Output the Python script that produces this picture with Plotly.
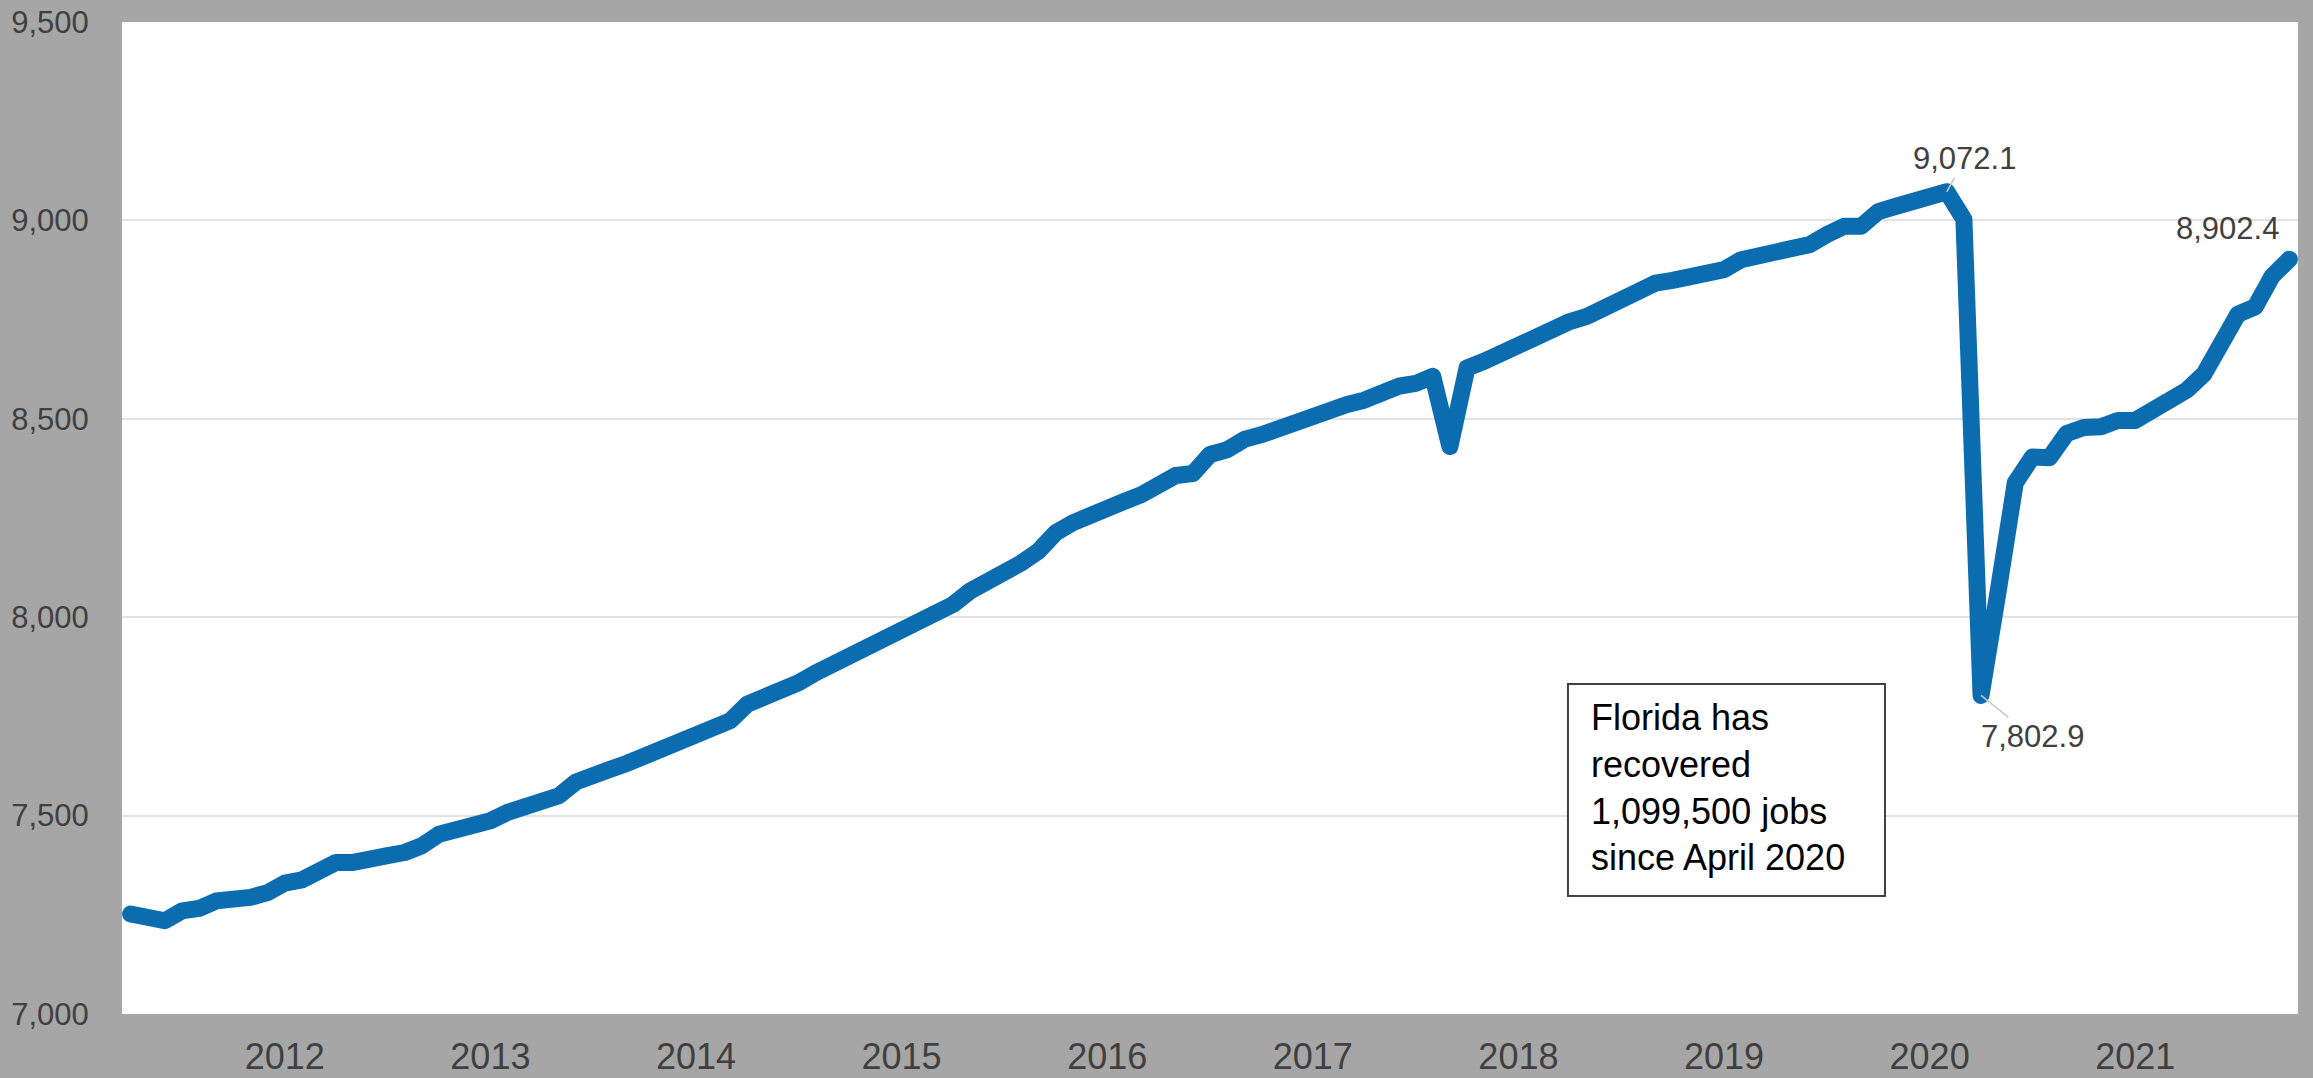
import pandas as pd
import plotly.graph_objects as go

# Monthly Florida nonfarm employment (thousands), Apr 2011 - Oct 2021
v2011 = [7252, 7244, 7235, 7260, 7266, 7285, 7287, 7294, 7306]  # Apr-Dec
v2012 = [7330, 7338, 7357, 7382, 7382, 7395, 7399, 7407, 7424, 7453, 7462, 7473]
v2013 = [7487, 7508, 7525, 7537, 7550, 7585, 7596, 7617, 7632, 7649, 7665, 7682]
v2014 = [7698, 7718, 7739, 7781, 7797, 7814, 7835, 7860, 7881, 7902, 7932, 7953]
v2015 = [7974, 7993, 8011, 8032, 8066, 8087, 8115, 8137, 8167, 8213, 8238, 8259]
v2016 = [8271, 8292, 8309, 8339, 8357, 8362, 8410, 8422, 8448, 8460, 8477, 8494]
v2017 = [8511, 8519, 8536, 8547, 8565, 8582, 8589, 8607, 8430, 8628, 8645, 8666]
v2018 = [8683, 8708, 8733, 8745, 8758, 8779, 8796, 8821, 8842, 8849, 8857, 8859]
v2019 = [8876, 8901, 8909, 8923, 8930, 8939, 8964, 8985, 8985, 9022, 9035, 9044]
v2020 = [9060, 9072.1, 9003, 7802.9, 8065, 8339, 8404, 8402, 8463, 8478, 8480, 8496]
v2021 = [8496, 8522, 8547, 8572, 8612, 8690, 8764, 8782, 8860, 8902.4]  # Jan-Oct

values = v2011 + v2012 + v2013 + v2014 + v2015 + v2016 + v2017 + v2018 + v2019 + v2020 + v2021
months = [d.strftime("%Y-%m") for d in pd.date_range("2011-04-01", periods=len(values), freq="MS")]

year_labels = ["2012", "2013", "2014", "2015", "2016", "2017", "2018", "2019", "2020", "2021"]
year_ticks = [y + "-01" for y in year_labels]
y_ticks = [7000, 7500, 8000, 8500, 9000, 9500]

box_text = "Florida has<br>recovered<br>1,099,500 jobs<br>since April 2020"

LINE_COLOR = "#0C6CB0"
TICK_COLOR = "#404040"
FONT = "Liberation Sans, Arial, sans-serif"

fig = go.Figure()
fig.add_trace(go.Scatter(
    x=months, y=values, mode="lines",
    line=dict(color=LINE_COLOR, width=17),
    hoverinfo="x+y", showlegend=False,
))

i_peak = values.index(max(values[:110]))
i_trough = values.index(min(values[100:]))
i_last = len(values) - 1

ann_font = dict(family=FONT, size=31, color=TICK_COLOR)
annotations = [
    dict(x=months[i_peak], y=values[i_peak], xref="x", yref="y",
         text=f"{values[i_peak]:,.1f}", showarrow=True, arrowhead=0,
         arrowwidth=1.5, arrowcolor="#C8C8C8", ax=18, ay=-33, standoff=0,
         font=ann_font),
    dict(x=months[i_trough], y=values[i_trough], xref="x", yref="y",
         text=f"{values[i_trough]:,.1f}", showarrow=True, arrowhead=0,
         arrowwidth=1.5, arrowcolor="#C8C8C8", ax=51, ay=41, standoff=0,
         font=ann_font),
    dict(x=months[i_last], y=values[i_last], xref="x", yref="y",
         text=f"{values[i_last]:,.1f}", showarrow=False,
         xshift=-62, yshift=31, font=ann_font),
    dict(x=0.6742, y=0.2288, xref="paper", yref="paper",
         xanchor="left", yanchor="middle", align="left",
         text=box_text, showarrow=False,
         font=dict(family=FONT, size=36, color="#000000")),
]

fig.update_layout(
    width=2313, height=1078,
    margin=dict(l=122, r=15, t=22, b=64, pad=0),
    paper_bgcolor="#A6A6A6",
    plot_bgcolor="#FFFFFF",
    font=dict(family=FONT, color=TICK_COLOR),
    annotations=annotations,
    shapes=[dict(type="rect", xref="paper", yref="paper",
                 x0=0.6645, x1=0.8102, y0=0.1190, y1=0.3327,
                 line=dict(color="#404040", width=2), fillcolor="#FFFFFF",
                 layer="above")],
    xaxis=dict(
        type="category", categoryorder="array", categoryarray=months,
        range=[-0.5, len(values) - 0.5], automargin=False,
        tickvals=year_ticks, ticktext=year_labels,
        showgrid=False, zeroline=False, showline=False,
        ticks="outside", ticklen=11, tickcolor="rgba(0,0,0,0)",
        tickfont=dict(family=FONT, size=36, color=TICK_COLOR),
    ),
    yaxis=dict(
        range=[7000, 9500], tickvals=y_ticks, automargin=False,
        tickformat=",d",
        showgrid=True, gridcolor="#E2E2E2", gridwidth=2,
        zeroline=False, showline=False,
        ticks="outside", ticklen=26, tickcolor="rgba(0,0,0,0)",
        tickfont=dict(family=FONT, size=31, color=TICK_COLOR),
    ),
)

post = """
document.body.style.margin='0';
var gd = document.getElementsByClassName('plotly-graph-div')[0];
function roundLines(){
  document.querySelectorAll('.scatterlayer .js-line').forEach(function(p){
    p.style.strokeLinejoin='round'; p.style.strokeLinecap='round';
  });
}
roundLines();
if (gd && gd.on) { gd.on('plotly_afterplot', roundLines); }
"""

fig.write_html("out.html", config={"displayModeBar": False}, post_script=post)
